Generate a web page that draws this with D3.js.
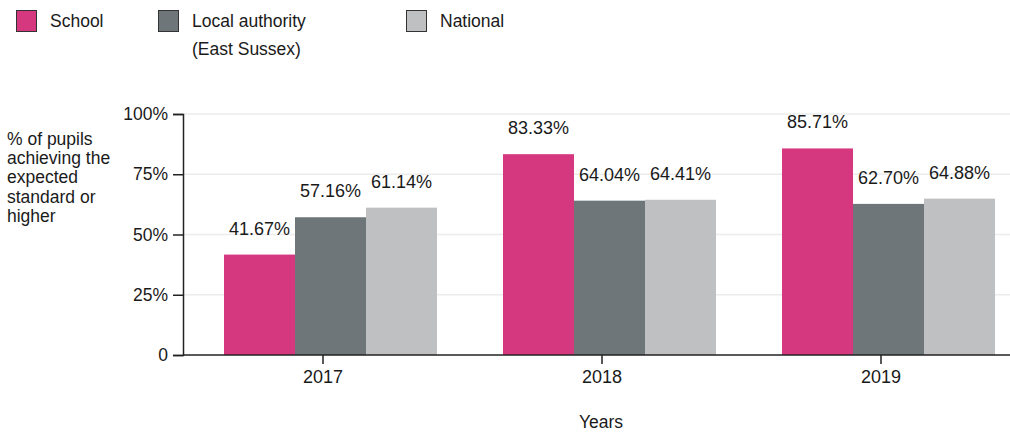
<!DOCTYPE html>
<html>
<head>
<meta charset="utf-8">
<script src="https://cdn.jsdelivr.net/npm/d3@7"></script>
<style>
  body { margin: 0; background: #fff; }
  svg { display: block; font-family: "Liberation Sans", Arial, sans-serif; }
</style>
</head>
<body>
<svg id="chart" width="1010" height="433"></svg>
<script>
const years = ["2017", "2018", "2019"]
const series = ["School", "Local authority", "National"]
const series_colors = ["#d6387f", "#6f7679", "#bfc0c2"]
const school = [41.67, 83.33, 85.71]
const local_authority = [57.16, 64.04, 62.70]
const national = [61.14, 64.41, 64.88]
const y_ticks = [0, 25, 50, 75, 100]
const y_title = ["% of pupils", "achieving the", "expected", "standard or", "higher"]

const values = [school, local_authority, national]
const svg = d3.select("#chart")

const x0 = d3.scaleBand()
  .domain(years)
  .range([183, 1036])
  .paddingInner(0.2366)
  .paddingOuter(0.147)
const x1 = d3.scaleBand()
  .domain(series)
  .range([0, x0.bandwidth()])
const y = d3.scaleLinear()
  .domain([0, 100])
  .range([355, 114])

// gridlines
svg.append("g")
  .selectAll("line")
  .data(y_ticks.filter(d => d > 0))
  .enter()
  .append("line")
  .attr("x1", 183)
  .attr("x2", 1010)
  .attr("y1", d => y(d))
  .attr("y2", d => y(d))
  .attr("stroke", "#ececec")
  .attr("stroke-width", 1.5)

// bars
var groups = svg.append("g")
  .selectAll("g.year")
  .data(years)
  .enter()
  .append("g")
  .attr("class", "year")
  .attr("transform", d => "translate(" + x0(d) + ",0)")

groups.each(function(year, i) {
  var g = d3.select(this)
  series.forEach((s, j) => {
    var v = values[j][i]
    g.append("rect")
      .attr("x", x1(s))
      .attr("y", y(v))
      .attr("width", x1.bandwidth())
      .attr("height", y(0) - y(v))
      .attr("fill", series_colors[j])
    g.append("text")
      .attr("x", x1(s) + x1.bandwidth() / 2)
      .attr("y", y(v) - 20)
      .attr("text-anchor", "middle")
      .attr("font-size", 18)
      .attr("fill", "#1a1a1a")
      .text(v.toFixed(2) + "%")
  })
})

// y axis
var y_axis = svg.append("g")
  .attr("transform", "translate(183,0)")
  .call(d3.axisLeft(y)
    .tickValues(y_ticks)
    .tickSize(10)
    .tickPadding(5)
    .tickFormat(d => d === 0 ? "0" : d + "%"))
y_axis.selectAll("text").attr("font-size", 17.5).attr("fill", "#1a1a1a").attr("font-family", null)
y_axis.selectAll("line, path").attr("stroke", "#222").attr("stroke-width", 1.5)

// x axis
var x_axis = svg.append("g")
  .attr("transform", "translate(-7.5," + y(0) + ")")
  .call(d3.axisBottom(x0).tickSize(9).tickPadding(6).tickSizeOuter(0))
x_axis.select("path.domain").remove()
x_axis.selectAll("text").attr("font-size", 18).attr("fill", "#1a1a1a").attr("font-family", null)
x_axis.selectAll("line").attr("stroke", "#222").attr("stroke-width", 1.5)
svg.append("line")
  .attr("x1", 183)
  .attr("x2", 1010)
  .attr("y1", y(0))
  .attr("y2", y(0))
  .attr("stroke", "#222")
  .attr("stroke-width", 1.5)

svg.append("text")
  .attr("x", 601)
  .attr("y", 428)
  .attr("text-anchor", "middle")
  .attr("font-size", 17.5)
  .attr("fill", "#1a1a1a")
  .text("Years")

// y title
svg.append("text")
  .attr("font-size", 17.5)
  .attr("fill", "#1a1a1a")
  .selectAll("tspan")
  .data(y_title)
  .enter()
  .append("tspan")
  .attr("x", 7)
  .attr("y", (d, i) => 145 + i * 19.2)
  .text(d => d)

// legend
const legend_x = [16, 158, 406]
series.forEach((s, j) => {
  var lg = svg.append("g").attr("transform", "translate(" + legend_x[j] + ",10)")
  lg.append("rect")
    .attr("x", 0.5)
    .attr("y", 0.5)
    .attr("width", 20)
    .attr("height", 21)
    .attr("fill", series_colors[j])
    .attr("stroke", "#333")
    .attr("stroke-width", 1)
  var t = lg.append("text")
    .attr("font-size", 17.5)
    .attr("fill", "#1a1a1a")
  t.append("tspan").attr("x", 34).attr("y", 17).text(s)
  if (j === 1) {
    t.append("tspan").attr("x", 34).attr("y", 45).text("(East Sussex)")
  }
})
</script>
</body>
</html>
